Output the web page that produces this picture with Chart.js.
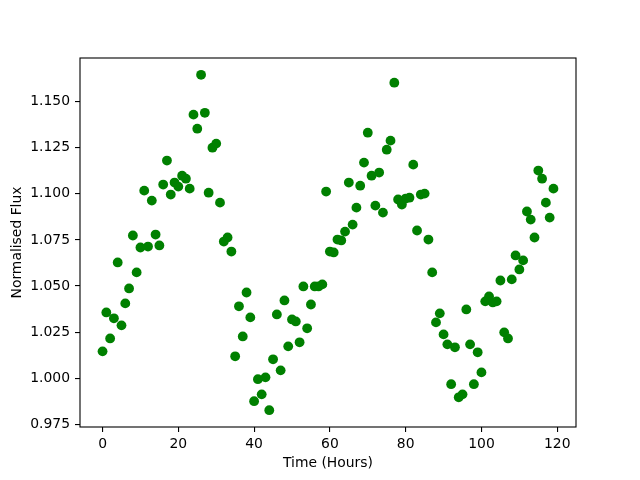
<!DOCTYPE html>
<html>
<head>
<meta charset="utf-8">
<script src="https://cdn.jsdelivr.net/npm/chart.js@4/dist/chart.umd.min.js"></script>
<style>
html,body{margin:0;padding:0;background:#fff;}
#wrap{width:640px;height:480px;position:relative;}
</style>
</head>
<body>
<div id="wrap"><canvas id="c" width="640" height="480"></canvas></div>
<script>
const hours = [0,1,2,3,4,5,6,7,8,9,10,11,12,13,14,15,16,17,18,19,20,21,22,23,24,25,26,27,28,29,
30,31,32,33,34,35,36,37,38,39,40,41,42,43,44,45,46,47,48,49,50,51,52,53,54,55,56,57,58,59,
60,61,62,63,64,65,66,67,68,69,70,71,72,73,74,75,76,77,78,79,80,81,82,83,84,85,86,87,88,89,
90,91,92,93,94,95,96,97,98,99,100,101,102,103,104,105,106,107,108,109,110,111,112,113,114,115,116,117,118,119];

const flux = [
1.0146,1.0357,1.0216,1.0325,1.0628,1.0287,1.0406,1.0487,1.0774,1.0574,
1.0709,1.1017,1.0714,1.0963,1.0779,1.0720,1.1050,1.1180,1.0996,1.1061,
1.1039,1.1098,1.1082,1.1028,1.1429,1.1353,1.1645,1.1439,1.1006,1.1250,
1.1272,1.0952,1.0741,1.0763,1.0687,1.0119,1.0390,1.0227,1.0465,1.0330,
0.9876,0.9995,0.9913,1.0005,0.9827,1.0103,1.0346,1.0043,1.0422,1.0173,
1.0319,1.0308,1.0195,1.0498,1.0271,1.0400,1.0498,1.0498,1.0509,1.1012,
1.0687,1.0682,1.0752,1.0747,1.0795,1.1061,1.0833,1.0925,1.1044,1.1169,
1.1331,1.1098,1.0936,1.1115,1.0898,1.1239,1.1288,1.1602,1.0969,1.0942,
1.0974,1.0979,1.1158,1.0801,1.0996,1.1001,1.0752,1.0574,1.0303,1.0352,
1.0238,1.0184,0.9968,1.0168,0.9897,0.9913,1.0373,1.0184,0.9968,1.0141,
1.0032,1.0417,1.0444,1.0411,1.0417,1.0530,1.0249,1.0216,1.0536,1.0666,
1.0590,1.0639,1.0904,1.0860,1.0763,1.1126,1.1082,1.0952,1.0871,1.1028];

const xTicks = [0,20,40,60,80,100,120];
const yTicks = [0.975,1.000,1.025,1.050,1.075,1.100,1.125,1.150];

const FONT = {family: "'DejaVu Sans', sans-serif", size: 13.9};

const frame = {
  id: 'frame',
  afterDatasetsDraw(chart) {
    const a = chart.chartArea, ctx = chart.ctx;
    ctx.save();
    ctx.strokeStyle = '#000';
    ctx.lineWidth = 1.1;
    ctx.strokeRect(a.left, a.top, a.right - a.left, a.bottom - a.top);
    ctx.restore();
  }
};

new Chart(document.getElementById('c'), {
  type: 'scatter',
  data: {
    datasets: [{
      data: hours.map((h, i) => ({x: h, y: flux[i]})),
      backgroundColor: '#008000',
      borderColor: '#008000',
      borderWidth: 0,
      pointRadius: 4.9,
      pointHoverRadius: 4.9
    }]
  },
  options: {
    responsive: false,
    animation: false,
    events: [],
    layout: {padding: {top: 58, right: 64, left: 0, bottom: 0}},
    plugins: {legend: {display: false}, tooltip: {enabled: false}},
    scales: {
      x: {
        type: 'linear',
        min: -5.95, max: 124.95,
        afterBuildTicks: s => { s.ticks = xTicks.map(v => ({value: v})); },
        afterFit: s => { s.height = 53; },
        grid: {drawOnChartArea: false, drawTicks: true, tickLength: 5, color: '#000', lineWidth: 1.1},
        border: {display: false},
        ticks: {color: '#000', font: FONT, padding: 4, maxRotation: 0,
                callback: v => String(v)},
        title: {display: true, text: 'Time (Hours)', color: '#000', font: FONT, padding: {top: 0, bottom: 8}}
      },
      y: {
        type: 'linear',
        min: 0.9736, max: 1.1736,
        afterBuildTicks: s => { s.ticks = yTicks.map(v => ({value: v})); },
        afterFit: s => { s.width = 80; },
        grid: {drawOnChartArea: false, drawTicks: true, tickLength: 5, color: '#000', lineWidth: 1.1},
        border: {display: false},
        ticks: {color: '#000', font: FONT, padding: 5,
                callback: v => Number(v).toFixed(3)},
        title: {display: true, text: 'Normalised Flux', color: '#000', font: FONT, padding: {top: 9, bottom: 0}}
      }
    }
  },
  plugins: [frame]
});
</script>
</body>
</html>
